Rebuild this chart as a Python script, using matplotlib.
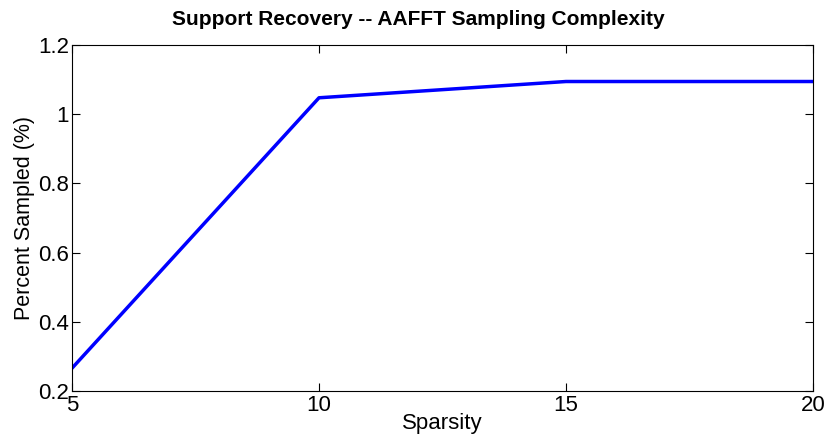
import matplotlib
matplotlib.use('Agg')
import matplotlib.pyplot as plt

plt.rcParams['font.family'] = ['Liberation Sans', 'DejaVu Sans']

# data
sparsity = [5, 10, 15, 20]
pct_sampled = [0.266, 1.047, 1.094, 1.094]

fig = plt.figure(figsize=(8.26, 4.45), dpi=100)
ax = fig.add_axes([0.0872, 0.1213, 0.897, 0.778])

ax.plot(sparsity, pct_sampled, color='#0000ff', linewidth=2.5)

ax.set_xlim(5, 20)
ax.set_ylim(0.2, 1.2)
ax.set_xticks([5, 10, 15, 20])
ax.set_yticks([0.2, 0.4, 0.6, 0.8, 1.0, 1.2])
ax.set_yticklabels(['0.2', '0.4', '0.6', '0.8', '1', '1.2'])
ax.tick_params(direction='in', labelsize=16, length=6, width=0.8,
               top=True, right=True)
ax.tick_params(axis='y', pad=2)
ax.tick_params(axis='x', pad=3)
for s in ax.spines.values():
    s.set_linewidth(0.8)

ax.set_xlabel('Sparsity', fontsize=16, labelpad=-2)
ax.set_ylabel('Percent Sampled (%)', fontsize=15.5, labelpad=2)
ax.set_title('Support Recovery -- AAFFT Sampling Complexity',
             fontsize=15, fontweight='bold', pad=14, x=0.467)

fig.savefig('out.png', dpi=100)
